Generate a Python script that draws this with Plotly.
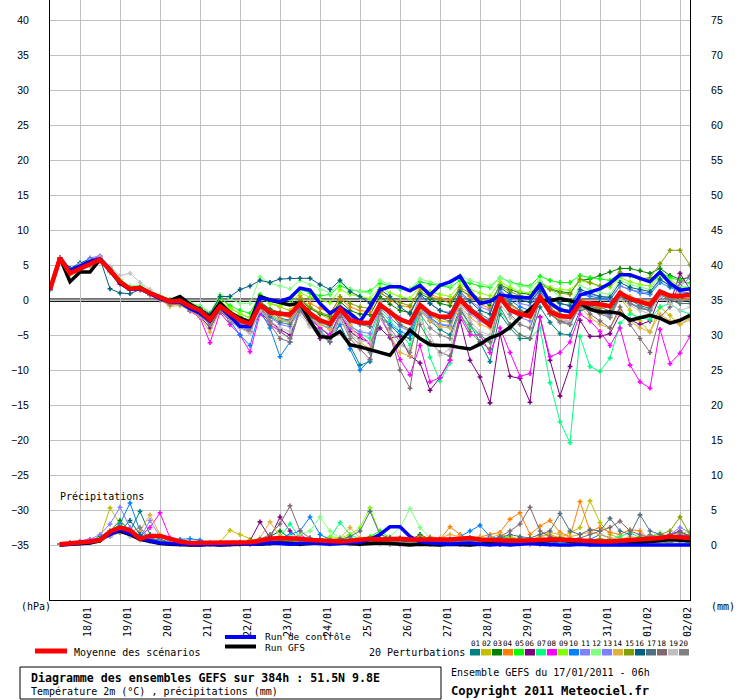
# GEFS ensemble diagram 51.5N 9.8E, run 17/01/2011 06h
import pandas as pd
import plotly.graph_objects as go

# 6-hourly steps 0h..384h
times = pd.date_range("2011-01-17 06:00", periods=65, freq="6h")
days = pd.date_range("2011-01-18", "2011-02-02", freq="D")
day_labels = [d.strftime("%d/%m") for d in days]

# --- 2m temperature (degC), 65 values ---
t_mean = [1.5, 6.0, 3.8, 4.5, 5.2, 5.8, 4.3, 2.6, 1.6, 1.7, 1.0, 0.4, -0.2,
          -0.1, -0.9, -1.5, -2.8, -0.9, -1.9, -2.9, -3.4, -0.7, -1.8, -1.9, -2.1, -0.5,
          -1.9, -2.9, -3.4, -1.3, -2.9, -3.2, -3.3, -0.7, -1.7, -2.8, -3.3, -0.7, -1.9,
          -2.4, -2.4, 0.1, -1.4, -2.6, -3.6, 0.4, -1.4, -2.0, -2.3, 0.4, -1.7, -2.3,
          -2.4, -0.4, -0.5, -0.6, -0.9, 1.0, 0.2, -0.2, -0.7, 1.2, 0.6, 0.6, 0.7]
t_control = [1.5, 6.0, 4.2, 4.8, 5.5, 5.9, 4.4, 2.5, 1.5, 1.6, 0.9, 0.2, -0.3,
             -0.3, -1.2, -1.9, -3.0, -1.0, -2.3, -3.8, -3.8, 0.3, 0.0, -0.2, 0.3, 1.7,
             1.4, -0.5, -1.9, -1.0, -1.9, -3.1, -1.0, 1.4, 1.9, 1.9, 1.3, 2.1, 0.7,
             2.1, 2.6, 3.4, 1.2, -0.5, -0.2, 0.7, 0.5, 0.4, 0.3, 2.2, -0.4, -1.4,
             -1.7, 0.7, 1.2, 1.6, 2.4, 3.6, 3.6, 3.1, 2.6, 4.0, 2.4, 1.4, 1.6]
t_gfs = [1.5, 6.0, 2.6, 4.0, 4.0, 5.8, 4.2, 2.4, 1.5, 1.8, 1.0, 0.3, -0.1,
         0.5, -0.6, -1.4, -2.5, -0.4, -1.8, -2.6, -3.2, 0.5, 0.0, -0.3, -0.7, -0.4,
         -3.0, -5.2, -5.4, -4.5, -6.4, -6.7, -7.1, -7.4, -7.9, -6.0, -4.3, -5.5, -6.4,
         -6.5, -6.5, -6.8, -7.0, -6.3, -5.4, -4.9, -3.9, -2.5, -1.3, -0.1, -0.1, 0.2,
         -0.1, -0.5, -1.3, -1.7, -1.7, -1.9, -2.9, -2.5, -2.2, -2.6, -3.3, -2.9, -2.2]

t01 = [1.5, 6.0, 4.4, 5.0, 5.3, 5.6, 4.0, 2.3, 1.4, 1.8, 1.2, 0.3, -0.5,
       -0.3, -1.2, -1.8, -2.9, -1.2, -2.2, -3.6, -4.0, -0.3, -1.5, -2.6, -2.9, -1.0,
       -2.5, -4.0, -5.2, -3.5, -6.5, -9.3, -8.8, -2.5, -3.6, -5.0, -5.5, -1.5, -3.0,
       -4.2, -5.0, -1.2, -3.5, -6.0, -8.8, -2.0, -4.0, -5.5, -5.5, -1.0, -3.2, -4.8,
       -5.0, -1.5, -1.2, -1.0, -1.6, 0.5, 0.0, -0.8, -1.2, 1.0, 0.6, 0.2, 0.8]
t02 = [1.5, 6.0, 3.9, 4.6, 5.0, 5.5, 4.5, 2.8, 1.8, 1.6, 0.9, 0.5, 0.0,
       0.1, -0.8, -1.2, -2.2, 0.4, -1.0, -2.0, -2.5, 0.6, -0.5, -1.0, -1.5, 0.2,
       -1.0, -2.0, -2.8, -0.5, -2.5, -3.0, -3.4, -0.3, -2.0, -3.5, -4.5, -0.8, -2.2,
       -3.0, -3.2, 0.5, -1.2, -2.2, -3.5, 0.8, -0.8, -1.5, -2.0, 0.8, -1.2, -2.0,
       -2.2, 0.0, -0.5, -1.5, -2.5, 0.3, -1.5, -3.0, -4.6, -1.0, -2.2, -3.5, -2.5]
t03 = [1.5, 6.0, 4.2, 4.8, 5.3, 5.9, 4.4, 2.7, 1.7, 1.8, 1.0, 0.3, -0.1,
       0.0, -0.8, -1.3, -2.5, -0.6, -1.6, -2.4, -2.9, -0.2, -1.3, -1.8, -1.9, 0.0,
       -1.2, -2.0, -2.4, -0.2, -1.5, -2.0, -2.1, 0.5, -0.6, -1.5, -1.8, 0.9, 0.2,
       -0.5, -0.8, 1.5, 0.6, 0.0, -0.8, 2.2, 1.5, 1.0, 0.8, 2.5, 1.6, 1.2,
       1.0, 2.8, 3.0, 3.5, 4.0, 4.5, 4.5, 4.2, 3.8, 4.5, 3.5, 3.0, 3.2]
t04 = [1.5, 6.0, 3.7, 4.3, 5.0, 5.6, 4.1, 2.4, 1.5, 1.5, 0.8, 0.1, -0.8,
       -0.5, -1.3, -2.0, -3.5, -1.4, -2.5, -3.2, -3.6, -0.5, -1.8, -2.2, -2.5, 0.6,
       -0.5, -1.2, -1.8, 0.2, -1.0, -1.5, -1.7, 1.2, 0.0, -0.8, -1.0, 1.6, 0.8,
       0.3, 0.0, 1.5, 0.5, -0.6, -1.2, 0.9, -0.5, -1.5, -1.8, 1.0, -0.8, -1.6,
       -1.8, 0.2, -0.5, -1.2, -1.0, 1.2, 0.5, 0.0, -0.3, 1.0, 0.2, 0.0, 0.2]
t05 = [1.5, 6.0, 4.0, 4.7, 5.4, 6.0, 4.6, 2.9, 1.8, 2.0, 1.2, 0.6, 0.1,
       0.3, -0.4, -0.9, -1.9, 0.3, -0.8, -1.5, -1.9, 0.8, 0.0, -0.2, 0.1, 1.5,
       1.0, 0.6, 0.8, 2.0, 1.5, 1.2, 1.3, 2.4, 2.0, 1.6, 1.5, 2.6, 2.3,
       2.0, 1.8, 2.8, 2.4, 2.0, 1.8, 3.2, 2.6, 2.2, 2.0, 3.4, 2.8, 2.5,
       2.5, 3.5, 3.2, 3.0, 2.8, 3.8, 3.4, 3.0, 3.0, 4.0, 3.2, 2.8, 2.4]
t06 = [1.5, 6.0, 4.1, 4.6, 5.1, 5.7, 4.2, 2.5, 1.4, 1.5, 0.8, 0.2, -0.4,
       -0.3, -1.5, -2.3, -4.0, -1.5, -2.8, -3.5, -4.5, -1.8, -3.0, -4.2, -5.0, -1.5,
       -3.5, -5.5, -5.0, -2.0, -4.5, -5.5, -6.0, -4.0, -5.4, -5.2, -8.0, -9.0, -12.9,
       -11.1, -8.6, -2.9, -8.6, -11.0, -14.7, -4.8, -10.9, -11.2, -14.6, -2.4, -8.6, -13.7,
       -9.5, -2.9, -5.2, -5.2, -4.8, -2.0, -2.8, -3.5, -3.0, 0.5, -0.5, 3.8, 1.5]
t07 = [1.5, 6.0, 4.3, 4.9, 5.5, 6.0, 4.5, 2.8, 1.9, 2.0, 1.1, 0.4, -0.3,
       -0.2, -1.0, -1.6, -3.2, -1.0, -2.0, -3.3, -3.5, -0.8, -2.2, -3.0, -3.2, -1.0,
       -2.5, -3.2, -3.8, -1.5, -3.5, -4.8, -5.5, -1.5, -3.0, -4.5, -6.5, -1.0, -8.2,
       -11.6, -9.0, -2.0, -4.0, -5.0, -6.0, -1.5, -3.5, -5.0, -5.5, -4.0, -11.8, -17.4,
       -20.4, -5.2, -9.5, -10.2, -8.3, -3.3, -2.0, -2.5, -2.8, -1.0, -0.5, -1.5, -2.0]
t08 = [1.5, 6.0, 4.0, 5.0, 5.8, 6.2, 4.0, 2.3, 1.5, 1.4, 0.7, 0.0, -0.6,
       -0.5, -1.6, -2.5, -6.1, -1.8, -3.5, -5.0, -7.4, -2.0, -3.5, -4.5, -5.5, -1.5,
       -2.8, -4.0, -5.0, -2.2, -4.0, -5.0, -6.2, -2.5, -5.0, -8.5, -10.7, -6.5, -11.7,
       -11.1, -8.6, -2.4, -5.0, -5.0, -7.5, -4.0, -7.5, -10.9, -10.5, -2.5, -8.1, -7.5,
       -6.0, -2.0, -3.0, -4.5, -6.5, -4.0, -9.3, -11.7, -12.6, -4.2, -9.1, -7.6, -5.2]
t09 = [1.5, 6.0, 4.1, 4.7, 5.2, 5.8, 4.5, 2.8, 1.7, 1.9, 1.1, 0.5, 0.0,
       0.1, -0.7, -1.2, -2.4, -0.3, -1.2, -2.0, -2.5, 0.5, -0.5, -0.8, -0.6, 1.0,
       0.4, 0.0, -0.4, 1.5, 0.8, 0.5, 0.2, 1.8, 1.0, 0.5, 0.2, 2.0, 1.2,
       0.8, 0.5, 2.2, 1.5, 1.0, 0.6, 2.6, 1.8, 1.2, 1.0, 2.6, 1.8, 1.5,
       1.4, 2.8, 2.4, 2.0, 1.8, 3.2, 2.6, 2.2, 2.0, 3.6, 2.8, 2.0, 1.5]
t10 = [1.5, 6.0, 4.3, 5.0, 5.6, 6.0, 4.2, 2.5, 1.5, 1.6, 0.9, 0.2, -0.4,
       -0.4, -1.3, -2.2, -3.5, -1.2, -3.0, -5.0, -6.5, -1.5, -4.0, -8.1, -6.0, -1.2,
       -3.0, -4.5, -6.0, -3.5, -7.0, -10.0, -8.5, -2.0, -3.5, -4.5, -5.0, -1.0, -2.5,
       -3.5, -3.8, 0.5, -1.5, -2.5, -3.0, 1.5, 0.0, -1.0, -1.5, 1.2, -0.5, -1.2,
       -1.5, 0.8, 0.5, 0.2, 0.0, 2.0, 1.5, 1.0, 0.8, 2.5, 1.8, 1.2, 1.0]
t11 = [1.5, 6.0, 4.4, 5.2, 6.0, 6.3, 4.6, 2.7, 1.6, 1.8, 1.0, 0.4, -0.3,
       -0.6, -1.5, -2.0, -3.2, -1.5, -2.8, -3.8, -4.2, -1.2, -2.5, -3.5, -3.8, -1.5,
       -2.8, -3.5, -4.0, -1.0, -2.5, -3.0, -3.2, -0.5, -1.5, -2.5, -3.0, 0.5, -0.5,
       -1.5, -1.8, 0.8, -0.2, -1.0, -1.5, 1.2, 0.5, -0.5, -0.8, 1.5, 0.2, -0.5,
       -0.8, 1.2, 0.8, 0.5, 0.2, 2.0, 1.5, 1.2, 1.0, 2.8, 2.2, 2.0, 3.2]
t12 = [1.5, 6.0, 4.2, 4.9, 5.5, 6.0, 4.7, 3.0, 2.0, 2.1, 1.3, 0.6, 0.0,
       0.0, -0.5, -0.8, -1.8, 0.8, 0.2, -0.5, -0.5, 3.3, 2.4, 2.0, 1.6, 2.8,
       2.2, 1.5, 1.0, 2.5, 1.6, 1.2, 1.0, 2.8, 2.2, 1.8, 1.6, 3.0, 2.6,
       2.2, 2.0, 3.5, 2.8, 2.4, 2.0, 3.2, 2.5, 2.0, 1.8, 2.8, 1.5, 0.5,
       -0.5, 2.0, 1.5, 1.0, 0.8, 2.8, 2.2, 1.8, 1.5, 3.5, 2.4, 1.8, 2.0]
t13 = [1.5, 6.0, 3.8, 4.4, 5.0, 5.6, 4.2, 2.5, 1.5, 1.6, 0.9, 0.3, -0.3,
       -0.2, -1.0, -1.7, -3.0, -0.8, -2.0, -3.5, -4.5, -0.5, -2.0, -2.8, -3.0, -0.8,
       -2.2, -3.4, -4.2, -1.8, -3.8, -4.5, -4.8, -1.2, -2.5, -3.8, -4.5, -1.2, -2.8,
       -3.5, -3.6, -0.5, -2.0, -3.0, -3.8, 0.2, -1.5, -2.5, -3.0, 0.0, -2.0, -3.0,
       -3.2, -1.0, -1.5, -1.8, -2.2, 0.5, -0.5, -1.0, -1.5, 1.0, 0.5, 0.5, 1.0]
t14 = [1.5, 6.0, 3.6, 4.2, 4.8, 5.5, 4.0, 2.4, 1.4, 1.4, 0.7, 0.0, -0.9,
       -0.8, -1.5, -2.4, -4.6, -1.5, -2.5, -3.4, -3.8, -0.6, -2.0, -2.8, -3.2, -1.0,
       -2.5, -3.5, -4.2, -1.2, -3.5, -6.0, -7.0, -2.0, -5.0, -7.5, -8.0, -1.5, -3.0,
       -3.8, -4.0, -0.8, -2.5, -3.5, -4.0, 0.0, -1.5, -2.2, -2.5, 0.2, -2.0, -2.8,
       -3.0, -1.0, -2.5, -3.5, -4.0, -1.5, -3.0, -4.0, -4.5, -2.0, -3.0, -3.5, -2.8]
t15 = [1.5, 6.0, 4.0, 4.5, 5.1, 5.7, 4.4, 2.7, 1.7, 1.7, 1.0, 0.4, -0.1,
       0.0, -0.8, -1.4, -2.6, -0.7, -1.8, -2.8, -3.2, -0.4, -1.6, -2.0, -2.2, 0.2,
       -1.0, -1.8, -2.2, 0.5, -0.5, -1.0, -1.2, 1.0, 0.2, -0.4, -0.8, 1.2, 0.5,
       0.0, -0.4, 1.8, 1.0, 0.2, -0.2, 2.0, 1.2, 0.6, 0.4, 2.2, 1.5, 1.0,
       0.8, 3.0, 2.5, 2.0, 2.2, 4.0, 3.5, 3.0, 3.2, 5.2, 7.1, 7.1, 5.0]
t16 = [1.5, 6.0, 4.5, 5.3, 5.8, 5.9, 1.6, 1.0, 0.9, 1.5, 1.0, 0.3, -0.4,
       -0.2, -0.8, -1.2, -2.0, 0.5, 0.5, 1.5, 2.0, 2.8, 2.5, 3.0, 3.1, 3.1,
       3.1, 2.2, 1.5, 2.8, 1.2, 0.5, -0.5, 1.5, 0.5, -1.0, -2.0, 0.8, -0.5,
       -1.5, -2.0, 1.2, -0.2, -1.5, -2.0, 1.8, 0.8, 0.0, -0.3, 1.5, 0.2, -0.5,
       -0.8, 1.5, 1.0, 0.5, 0.4, 2.5, 1.8, 1.5, 1.2, 3.0, 2.0, 1.5, 1.5]
t17 = [1.5, 6.0, 3.9, 4.5, 5.2, 5.8, 4.3, 2.5, 1.5, 1.6, 0.9, 0.3, -0.3,
       -0.3, -1.1, -1.7, -3.0, -1.0, -2.2, -3.2, -3.8, -0.8, -2.4, -3.2, -3.5, -1.2,
       -2.5, -3.0, -3.6, -1.5, -3.0, -3.5, -3.8, -0.8, -1.8, -3.5, -4.2, -1.0, -2.0,
       -2.6, -3.0, 0.5, -1.0, -2.0, -2.8, 0.8, -0.5, -1.5, -2.0, 0.5, -1.2, -2.0,
       -2.5, 0.0, -0.8, -1.5, -2.0, 0.5, -0.5, -1.2, -1.5, 0.8, 0.0, -0.5, -0.5]
t18 = [1.5, 6.0, 4.0, 4.8, 5.4, 5.9, 4.4, 2.6, 1.6, 1.7, 0.9, 0.2, -0.5,
       -0.5, -1.4, -2.0, -3.6, -1.6, -3.0, -4.0, -4.5, -1.0, -3.5, -5.5, -6.0, -1.5,
       -3.5, -5.0, -6.0, -2.5, -5.5, -7.0, -8.5, -2.0, -5.0, -10.0, -12.6, -3.5, -6.0,
       -7.5, -8.0, -2.0, -4.5, -6.0, -7.0, -1.0, -3.5, -5.0, -5.5, 0.5, -2.0, -3.0,
       -3.5, -0.5, -2.0, -3.0, -4.0, -1.0, -3.5, -5.5, -7.5, -2.5, -1.0, 2.5, 3.5]
t19 = [1.5, 6.0, 4.3, 5.1, 5.7, 6.1, 4.8, 3.5, 3.8, 2.5, 1.5, 0.5, -0.2,
       -0.4, -1.4, -2.2, -3.4, -1.3, -2.8, -4.0, -4.8, -1.5, -3.0, -4.0, -4.5, -2.0,
       -3.8, -5.0, -5.5, -3.0, -5.0, -5.8, -6.0, -2.5, -4.5, -6.5, -7.0, -2.8, -5.0,
       -7.9, -7.0, -1.0, -3.0, -4.5, -5.0, -0.5, -2.5, -3.5, -4.0, 0.5, -1.5, -2.5,
       -3.0, -0.5, -1.5, -2.0, -2.5, 0.2, -0.8, -1.5, -2.0, 0.5, -0.5, -1.5, -1.0]
t20 = [1.5, 6.0, 3.9, 4.5, 5.1, 5.7, 4.2, 2.6, 1.5, 1.5, 0.8, 0.1, -0.6,
       -0.6, -1.5, -2.1, -3.4, -1.4, -2.6, -3.6, -4.0, -0.9, -3.0, -4.5, -5.5, -1.5,
       -3.0, -4.5, -5.5, -2.0, -5.0, -6.5, -7.5, -1.5, -4.0, -6.0, -7.5, -2.0, -4.0,
       -5.0, -5.5, -1.5, -3.5, -5.0, -6.0, 0.0, -2.0, -3.5, -4.0, 0.0, -2.0, -3.2,
       -3.5, -1.0, -1.5, -2.0, -2.5, 0.5, -0.5, -1.0, -1.5, 0.8, 0.2, -0.2, 0.0]

# --- precipitation (mm), steps 6h..384h, 64 values ---
p_mean = [0.1, 0.2, 0.3, 0.5, 0.7, 1.9, 2.5, 2.1, 0.9, 1.3, 1.3, 0.9,
          0.5, 0.3, 0.3, 0.3, 0.3, 0.3, 0.3, 0.4, 0.6, 0.9, 1.0, 1.0, 0.9,
          0.7, 0.6, 0.5, 0.5, 0.6, 0.8, 0.9, 0.8, 0.9, 0.9, 0.8, 0.8, 0.7,
          0.7, 0.8, 0.9, 1.0, 0.8, 0.7, 0.6, 0.6, 0.6, 0.7, 0.7, 0.8, 0.8,
          0.7, 0.6, 0.6, 0.5, 0.5, 0.6, 0.7, 0.7, 0.8, 1.0, 1.2, 1.1, 1.0]
p_control = [0.0, 0.1, 0.2, 0.4, 0.8, 1.5, 2.2, 1.6, 1.0, 0.6, 0.3, 0.2,
             0.1, 0.1, 0.0, 0.1, 0.0, 0.1, 0.2, 0.1, 0.2, 0.3, 0.2, 0.1, 0.2,
             0.3, 0.2, 0.1, 0.2, 0.3, 0.4, 0.8, 1.5, 2.6, 2.6, 1.2, 0.5, 0.3,
             0.2, 0.1, 0.2, 0.3, 0.1, 0.0, 0.1, 0.0, 0.1, 0.2, 0.1, 0.0, 0.0,
             0.0, 0.1, 0.0, 0.0, 0.1, 0.0, 0.0, 0.1, 0.0, 0.0, 0.1, 0.0, 0.0]
p_gfs = [0.0, 0.1, 0.2, 0.3, 0.6, 1.8, 2.0, 1.5, 0.8, 0.5, 0.2, 0.1,
         0.0, 0.0, 0.0, 0.1, 0.0, 0.0, 0.1, 0.2, 0.1, 0.2, 0.3, 0.2, 0.1,
         0.2, 0.3, 0.4, 0.3, 0.2, 0.1, 0.2, 0.3, 0.2, 0.1, 0.0, 0.1, 0.0,
         0.0, 0.1, 0.0, 0.0, 0.1, 0.2, 0.3, 0.2, 0.4, 0.6, 0.5, 0.6, 0.8,
         0.5, 0.4, 0.3, 0.2, 0.1, 0.1, 0.2, 0.3, 0.5, 0.6, 0.8, 0.7, 0.6]

p01 = [0.1, 0.2, 0.3, 0.4, 0.8, 1.5, 2.0, 2.0, 4.8, 1.5, 0.8, 0.4,
       0.2, 0.1, 0.1, 0.2, 0.3, 0.2, 0.1, 0.2, 0.5, 0.8, 0.4, 0.3, 0.2,
       0.3, 0.5, 0.3, 0.2, 0.3, 0.4, 0.6, 0.3, 0.2, 0.4, 0.3, 0.2, 0.3,
       0.4, 0.6, 0.8, 0.5, 0.3, 0.6, 1.2, 0.8, 0.4, 0.3, 0.4, 0.5, 0.3,
       0.2, 0.3, 0.4, 0.5, 0.3, 0.4, 0.6, 0.8, 0.5, 0.7, 1.0, 1.3, 1.5]
p02 = [0.1, 0.2, 0.4, 0.6, 1.0, 5.3, 3.0, 1.5, 0.8, 1.0, 0.6, 0.3,
       0.2, 0.1, 0.1, 0.2, 0.4, 2.1, 1.5, 0.8, 0.3, 0.2, 0.4, 0.6, 0.3,
       0.2, 0.3, 0.5, 0.4, 0.3, 0.2, 0.3, 0.5, 0.8, 0.4, 0.3, 0.5, 0.6,
       0.8, 0.4, 0.3, 0.2, 0.3, 0.4, 0.6, 0.5, 0.4, 0.8, 1.2, 1.5, 1.0,
       1.8, 2.5, 6.3, 3.2, 1.5, 1.0, 0.8, 0.6, 0.5, 0.8, 0.6, 1.0, 1.2]
p03 = [0.1, 0.3, 0.4, 0.5, 1.2, 2.0, 3.5, 2.0, 1.0, 0.8, 0.5, 0.3,
       0.2, 0.1, 0.2, 0.3, 0.2, 0.1, 0.2, 0.4, 0.8, 1.2, 2.0, 1.0, 0.6,
       0.5, 0.4, 0.3, 0.6, 0.8, 0.5, 0.4, 0.6, 0.8, 1.0, 0.7, 1.5, 0.8,
       0.5, 0.4, 0.6, 0.8, 0.5, 0.4, 0.6, 0.8, 1.0, 0.7, 0.5, 0.4, 0.3,
       0.3, 0.2, 0.4, 0.3, 0.2, 0.3, 0.5, 0.8, 0.6, 0.4, 0.3, 0.2, 0.3]
p04 = [0.1, 0.2, 0.3, 0.6, 1.0, 1.8, 2.5, 1.5, 0.8, 0.6, 0.4, 0.2,
       0.1, 0.1, 0.2, 0.1, 0.1, 0.2, 0.1, 0.1, 0.3, 0.5, 0.4, 0.3, 0.5,
       0.4, 0.3, 0.6, 0.5, 0.8, 0.6, 0.4, 0.7, 1.0, 0.8, 0.6, 1.2, 1.0,
       0.8, 2.6, 1.5, 0.8, 1.2, 1.5, 1.8, 3.7, 4.6, 1.5, 2.7, 3.5, 1.8,
       1.2, 6.2, 2.0, 2.5, 1.8, 1.5, 2.2, 2.0, 0.8, 0.6, 0.5, 0.6, 0.5]
p05 = [0.1, 0.2, 0.3, 0.5, 0.9, 1.8, 3.0, 1.8, 0.8, 0.6, 0.4, 0.3,
       0.2, 0.1, 0.1, 0.2, 0.2, 0.1, 0.2, 0.3, 0.5, 0.6, 0.8, 0.5, 0.4,
       0.5, 0.7, 0.6, 0.8, 1.0, 0.8, 1.2, 2.0, 1.0, 0.6, 0.5, 0.8, 0.6,
       0.5, 0.8, 1.0, 0.7, 0.5, 0.6, 0.9, 1.2, 0.8, 0.5, 0.6, 1.0, 0.7,
       0.5, 0.4, 0.6, 0.8, 0.6, 0.5, 0.7, 1.2, 0.9, 0.6, 0.8, 1.5, 1.0]
p06 = [0.1, 0.2, 0.3, 0.5, 0.8, 1.5, 2.2, 1.8, 1.0, 0.8, 0.5, 0.3,
       0.2, 0.1, 0.1, 0.2, 0.1, 0.2, 0.4, 0.6, 3.3, 1.0, 4.0, 2.0, 0.8,
       0.4, 0.3, 0.2, 0.3, 0.2, 0.3, 0.4, 0.2, 0.1, 0.2, 0.3, 0.2, 0.1,
       0.1, 0.2, 0.3, 0.1, 0.1, 0.2, 0.1, 0.1, 0.2, 0.3, 0.1, 0.1, 0.1,
       0.1, 0.2, 0.1, 0.2, 0.4, 0.3, 0.2, 0.3, 0.5, 1.0, 1.5, 2.0, 1.2]
p07 = [0.1, 0.2, 0.4, 0.6, 1.0, 1.6, 2.4, 1.6, 0.9, 0.7, 0.5, 0.3,
       0.2, 0.1, 0.1, 0.1, 0.2, 0.1, 0.2, 0.3, 0.5, 0.8, 1.2, 3.0, 1.0,
       0.8, 0.6, 1.0, 3.2, 1.5, 0.8, 0.6, 0.5, 0.4, 0.3, 0.5, 0.4, 0.3,
       0.3, 0.4, 0.5, 0.8, 0.6, 0.4, 0.3, 0.4, 0.6, 0.4, 0.3, 0.5, 0.8,
       0.6, 0.4, 0.3, 0.4, 0.8, 1.2, 1.8, 1.0, 0.6, 0.5, 0.8, 0.6, 0.4]
p08 = [0.1, 0.3, 0.5, 0.8, 1.0, 1.5, 1.8, 1.5, 1.2, 2.5, 4.6, 1.0,
       0.4, 0.2, 0.1, 0.1, 0.2, 0.1, 0.1, 0.2, 0.3, 0.5, 0.4, 0.8, 1.5,
       0.6, 0.3, 0.2, 0.3, 0.2, 0.1, 0.2, 0.3, 0.2, 0.1, 0.2, 0.3, 0.2,
       0.1, 0.2, 0.1, 0.1, 0.2, 0.1, 0.1, 0.2, 0.1, 0.1, 0.2, 0.3, 0.2,
       0.1, 0.2, 0.1, 0.1, 0.2, 0.1, 0.3, 0.4, 0.2, 0.5, 0.8, 0.6, 0.4]
p09 = [0.1, 0.2, 0.3, 0.4, 0.8, 1.4, 2.0, 1.6, 0.9, 0.7, 0.5, 0.3,
       0.2, 0.1, 0.1, 0.2, 0.1, 0.2, 0.3, 0.2, 0.4, 0.6, 0.5, 0.8, 0.6,
       0.5, 0.8, 1.2, 1.0, 1.5, 2.5, 5.3, 1.5, 0.8, 0.6, 0.5, 0.7, 0.5,
       0.4, 0.5, 0.6, 0.8, 0.6, 0.4, 0.5, 0.7, 0.9, 0.6, 0.5, 0.8, 1.2,
       0.8, 0.6, 0.5, 0.7, 0.5, 0.4, 0.6, 0.8, 1.0, 0.7, 1.2, 1.6, 2.0]
p10 = [0.1, 0.2, 0.4, 0.6, 1.0, 1.8, 3.0, 6.0, 2.0, 1.0, 0.6, 0.3,
       0.8, 0.9, 0.7, 0.3, 0.2, 0.1, 0.2, 0.3, 0.5, 0.8, 1.0, 1.5, 2.0,
       4.0, 1.5, 0.8, 0.6, 0.4, 0.5, 0.3, 0.4, 0.6, 0.5, 0.8, 1.0, 0.8,
       0.6, 0.8, 1.2, 2.0, 2.8, 1.2, 0.8, 0.5, 0.4, 0.6, 0.8, 0.5, 0.4,
       0.3, 0.5, 0.8, 1.5, 1.0, 0.6, 0.4, 0.5, 0.8, 1.0, 0.6, 0.5, 0.4]
p11 = [0.1, 0.2, 0.3, 0.5, 0.9, 1.6, 2.2, 1.5, 1.0, 3.5, 1.2, 0.5,
       0.3, 0.2, 0.1, 0.1, 0.2, 0.1, 0.2, 0.1, 0.3, 0.4, 0.6, 0.5, 0.4,
       0.3, 0.5, 0.4, 0.6, 0.5, 0.4, 0.6, 0.5, 0.3, 0.4, 0.5, 0.6, 0.4,
       0.5, 0.3, 0.4, 0.6, 0.8, 0.5, 0.3, 0.4, 0.5, 0.4, 0.6, 0.8, 0.6,
       0.5, 0.4, 0.6, 0.8, 0.6, 0.5, 0.8, 1.0, 1.2, 0.9, 1.5, 2.5, 1.8]
p12 = [0.1, 0.2, 0.3, 0.5, 1.0, 1.8, 2.6, 1.8, 1.0, 0.8, 0.5, 0.3,
       0.2, 0.1, 0.1, 0.2, 0.1, 0.2, 0.2, 0.3, 0.4, 0.6, 0.8, 1.2, 1.5,
       2.0, 4.0, 2.0, 1.0, 0.8, 0.6, 0.5, 0.8, 1.2, 2.5, 5.2, 2.5, 1.0,
       0.8, 0.6, 0.5, 0.8, 1.0, 0.7, 0.5, 0.6, 0.8, 0.5, 0.4, 0.6, 0.5,
       0.4, 0.5, 0.6, 0.5, 0.4, 0.6, 0.8, 1.0, 1.2, 1.8, 1.0, 0.8, 0.6]
p13 = [0.1, 0.3, 0.5, 0.8, 1.5, 3.0, 5.4, 2.5, 1.2, 0.8, 0.5, 0.3,
       0.2, 0.1, 0.1, 0.1, 0.2, 0.1, 0.1, 0.2, 0.3, 0.5, 0.6, 0.4, 0.3,
       0.4, 0.6, 0.5, 0.3, 0.4, 0.6, 0.8, 0.5, 0.4, 0.3, 0.4, 0.6, 0.5,
       0.4, 0.3, 0.5, 0.7, 0.5, 0.3, 0.4, 0.6, 0.5, 0.4, 0.3, 0.5, 0.6,
       0.4, 0.3, 0.5, 0.6, 0.4, 0.5, 0.7, 0.6, 0.8, 1.2, 0.9, 1.5, 1.2]
p14 = [0.1, 0.2, 0.3, 0.4, 0.7, 1.2, 1.8, 1.5, 2.0, 4.3, 1.5, 0.5,
       0.3, 0.2, 0.1, 0.2, 0.1, 0.2, 0.3, 0.5, 1.0, 3.3, 1.2, 0.6, 0.4,
       0.5, 0.6, 0.8, 1.0, 2.5, 1.0, 0.6, 0.8, 1.0, 0.6, 0.5, 0.8, 1.2,
       1.0, 1.5, 1.2, 0.8, 0.6, 1.0, 1.5, 1.2, 0.8, 0.6, 1.2, 1.8, 1.5,
       1.2, 1.5, 1.8, 1.5, 1.0, 0.8, 1.2, 1.0, 0.8, 0.6, 0.8, 1.0, 0.8]
p15 = [0.1, 0.2, 0.3, 0.5, 0.8, 1.5, 2.2, 1.6, 0.9, 0.7, 0.4, 0.2,
       0.1, 0.1, 0.1, 0.2, 0.1, 0.1, 0.2, 0.3, 0.4, 0.3, 0.5, 0.6, 0.4,
       0.3, 0.4, 0.6, 0.5, 0.4, 0.6, 0.8, 0.6, 0.4, 0.5, 0.6, 0.8, 0.6,
       0.4, 0.5, 0.7, 0.6, 0.4, 0.5, 0.6, 0.8, 0.6, 0.5, 0.7, 1.0, 0.8,
       0.6, 0.5, 0.7, 0.9, 0.7, 0.6, 0.8, 1.0, 1.2, 1.5, 2.0, 4.0, 1.5]
p16 = [0.1, 0.2, 0.3, 0.5, 0.9, 1.5, 2.0, 3.5, 1.5, 0.8, 0.5, 0.3,
       0.2, 0.1, 0.1, 0.2, 0.3, 0.2, 0.1, 0.2, 0.3, 0.2, 0.4, 0.3, 0.2,
       0.3, 0.4, 0.6, 0.8, 0.5, 0.4, 0.6, 0.8, 1.0, 0.6, 0.4, 0.5, 0.6,
       0.5, 0.4, 0.6, 0.8, 0.5, 0.3, 0.4, 0.6, 0.8, 0.5, 0.4, 0.6, 0.5,
       0.4, 0.3, 0.5, 0.6, 0.4, 0.5, 0.7, 0.6, 0.8, 1.0, 1.4, 1.2, 0.9]
p17 = [0.1, 0.2, 0.3, 0.5, 0.8, 1.4, 2.0, 1.5, 0.9, 0.7, 0.4, 0.3,
       0.2, 0.1, 0.1, 0.2, 0.1, 0.2, 0.2, 0.3, 0.4, 0.5, 0.6, 0.5, 0.8,
       1.0, 0.8, 0.6, 0.8, 1.2, 2.0, 4.8, 1.5, 1.0, 0.8, 0.6, 0.8, 1.0,
       0.8, 0.6, 0.8, 1.0, 0.8, 0.6, 1.0, 1.5, 1.2, 1.0, 1.5, 2.0, 4.5,
       2.0, 1.5, 2.2, 2.0, 3.8, 2.0, 1.5, 4.3, 2.0, 1.5, 1.2, 1.0, 0.8]
p18 = [0.1, 0.2, 0.3, 0.4, 0.7, 1.2, 1.8, 1.4, 0.8, 0.6, 0.4, 0.3,
       0.2, 0.1, 0.1, 0.2, 0.1, 0.1, 0.2, 0.4, 0.8, 1.5, 3.0, 5.6, 2.0,
       1.0, 0.8, 0.6, 0.5, 0.4, 0.6, 0.8, 0.5, 0.4, 0.3, 0.5, 0.6, 0.4,
       0.5, 0.6, 0.8, 1.0, 0.8, 0.6, 1.2, 2.0, 3.0, 5.4, 2.0, 1.2, 1.0,
       0.8, 1.0, 1.5, 2.0, 2.5, 3.4, 2.0, 1.5, 1.0, 1.2, 1.5, 1.8, 1.2]
p19 = [0.1, 0.2, 0.3, 0.4, 0.7, 1.2, 2.0, 1.2, 0.7, 0.5, 0.3, 0.2,
       0.1, 0.1, 0.1, 0.1, 0.1, 0.1, 0.1, 0.2, 0.2, 0.3, 0.2, 0.2, 0.1,
       0.2, 0.1, 0.1, 0.2, 0.1, 0.1, 0.2, 0.1, 0.1, 0.2, 0.1, 0.1, 0.1,
       0.1, 0.1, 0.2, 0.1, 0.1, 0.1, 0.2, 0.1, 0.1, 0.1, 0.1, 0.2, 0.1,
       0.1, 0.1, 0.2, 0.1, 0.1, 0.2, 0.1, 0.1, 0.2, 0.3, 0.2, 0.2, 0.1]
p20 = [0.1, 0.2, 0.3, 0.5, 0.8, 1.4, 2.0, 1.8, 2.5, 1.0, 0.5, 0.3,
       0.2, 0.1, 0.1, 0.2, 0.1, 0.2, 0.2, 0.3, 0.4, 0.5, 0.4, 0.3, 0.4,
       0.3, 0.4, 0.5, 0.4, 0.6, 0.5, 0.4, 0.6, 0.5, 0.4, 0.3, 0.5, 0.4,
       0.3, 0.4, 0.5, 0.6, 0.4, 0.3, 0.5, 0.6, 0.4, 0.3, 0.4, 0.5, 0.6,
       0.4, 0.3, 0.5, 0.6, 0.4, 0.5, 0.7, 0.8, 1.5, 0.8, 0.6, 0.5, 0.4]

member_labels = ["01", "02", "03", "04", "05", "06", "07", "08", "09", "10",
                 "11", "12", "13", "14", "15", "16", "17", "18", "19", "20"]
member_colors = ["#008080", "#c0c000", "#008000", "#ff8000", "#00ff00",
                 "#800080", "#00ff80", "#ff00ff", "#80ff00", "#0080ff",
                 "#8080ff", "#80ff80", "#7f7fff", "#e0b040", "#80a000",
                 "#006080", "#507080", "#806870", "#c0c0c0", "#808080"]

t_members = [t01, t02, t03, t04, t05, t06, t07, t08, t09, t10,
             t11, t12, t13, t14, t15, t16, t17, t18, t19, t20]
p_members = [p01, p02, p03, p04, p05, p06, p07, p08, p09, p10,
             p11, p12, p13, p14, p15, p16, p17, p18, p19, p20]
for s in t_members + [t_mean, t_control, t_gfs]:
    assert len(s) == 65, len(s)
for s in p_members + [p_mean, p_control, p_gfs]:
    assert len(s) == 64, len(s)

MONO = "DejaVu Sans Mono"
SANS = "Liberation Sans"

fig = go.Figure()

# temperature
for ser, col in zip(t_members, member_colors):
    fig.add_trace(go.Scatter(x=times, y=ser, mode="lines+markers",
                             line=dict(color=col, width=1),
                             marker=dict(symbol="cross", size=4, color=col),
                             hoverinfo="skip"))
fig.add_trace(go.Scatter(x=times, y=t_gfs, mode="lines", line=dict(color="black", width=3.5)))
fig.add_trace(go.Scatter(x=times, y=t_control, mode="lines", line=dict(color="#0000ff", width=3.5)))
fig.add_trace(go.Scatter(x=times, y=t_mean, mode="lines", line=dict(color="#ff0000", width=4.5)))

# precipitation (right axis)
ptimes = times[1:]
for ser, col in zip(p_members, member_colors):
    fig.add_trace(go.Scatter(x=ptimes, y=ser, yaxis="y2", mode="lines+markers",
                             line=dict(color=col, width=1),
                             marker=dict(symbol="cross", size=4, color=col),
                             hoverinfo="skip"))
fig.add_trace(go.Scatter(x=ptimes, y=p_gfs, yaxis="y2", mode="lines", line=dict(color="black", width=3.5)))
fig.add_trace(go.Scatter(x=ptimes, y=p_control, yaxis="y2", mode="lines", line=dict(color="#0000ff", width=3.5)))
fig.add_trace(go.Scatter(x=ptimes, y=p_mean, yaxis="y2", mode="lines", line=dict(color="#ff0000", width=4.5)))


# pixel -> paper helpers (plot area is x 50..690, y 0..600)
def px(x):
    return (x - 50) / 640.0


def py(y):
    return (600 - y) / 600.0


shapes = []
# double zero line
for yv in (0.15, -0.2):
    shapes.append(dict(type="line", xref="paper", yref="y", x0=0, x1=1, y0=yv, y1=yv,
                       line=dict(color="black", width=1), layer="between"))
# legend keys
shapes.append(dict(type="line", xref="paper", yref="paper", x0=px(35), x1=px(67),
                   y0=py(651), y1=py(651), line=dict(color="#ff0000", width=5)))
shapes.append(dict(type="line", xref="paper", yref="paper", x0=px(225), x1=px(256),
                   y0=py(637), y1=py(637), line=dict(color="#0000ff", width=4)))
shapes.append(dict(type="line", xref="paper", yref="paper", x0=px(225), x1=px(256),
                   y0=py(646.5), y1=py(646.5), line=dict(color="black", width=4)))
for k, col in enumerate(member_colors):
    shapes.append(dict(type="rect", xref="paper", yref="paper",
                       x0=px(470 + 11 * k), x1=px(480 + 11 * k), y0=py(655.5), y1=py(649),
                       fillcolor=col, line=dict(width=0)))
# title box
shapes.append(dict(type="rect", xref="paper", yref="paper", x0=px(20), x1=px(441),
                   y0=py(699), y1=py(667), line=dict(color="black", width=1)))


def label(x, y, text, size=10, bold=False, anchor="left"):
    return dict(xref="paper", yref="paper", x=px(x), y=py(y), text=f"<b>{text}</b>" if bold else text,
                showarrow=False, xanchor=anchor, yanchor="middle", borderpad=0,
                font=dict(family=MONO, size=size, color="black"))


annotations = [
    label(59, 496, "Précipitations"),
    label(20, 606, "(hPa)"),
    label(710, 606, "(mm)"),
    label(73, 652, "Moyenne des scénarios"),
    label(264, 636, "Run de contrôle", size=9.5),
    label(264, 647.5, "Run GFS", size=9.5),
    label(466, 652, "20 Perturbations", anchor="right"),
    label(30, 678, "Diagramme des ensembles GEFS sur 384h : 51.5N 9.8E", size=11.6, bold=True),
    label(30, 691, "Température 2m (°C) , précipitations (mm)"),
    label(450, 672, "Ensemble GEFS du 17/01/2011 - 06h"),
    label(450, 691, "Copyright 2011 Meteociel.fr", size=12.2, bold=True),
]
for k, name in enumerate(member_labels):
    annotations.append(label(475 + 11 * k, 643.5, name, size=7.5, anchor="center"))

fig.update_layout(
    width=740, height=700,
    margin=dict(l=50, r=50, t=0, b=100),
    plot_bgcolor="white", paper_bgcolor="white",
    showlegend=False, hovermode=False,
    shapes=shapes, annotations=annotations,
    xaxis=dict(type="date", range=[times[0], times[-1]],
               tickvals=[d.strftime("%Y-%m-%d") for d in days], ticktext=day_labels,
               tickangle=-90, ticklabelshift=8, ticklabelstandoff=2,
               tickfont=dict(family=MONO, size=10, color="black"),
               showgrid=True, gridcolor="#c0c0c0", gridwidth=1,
               showline=True, linecolor="black", linewidth=1,
               zeroline=False, ticks="", automargin=False),
    yaxis=dict(range=[-300 / 7, 300 / 7], tickvals=list(range(-35, 45, 5)),
               tickfont=dict(family=SANS, size=10.5, color="black"),
               ticklabelstandoff=18,
               showgrid=True, gridcolor="#c0c0c0", gridwidth=1,
               showline=True, linecolor="black", linewidth=1,
               zeroline=False, ticks="", automargin=False),
    yaxis2=dict(range=[-300 / 7 + 35, 300 / 7 + 35], tickvals=list(range(0, 80, 5)),
                overlaying="y", side="right",
                tickfont=dict(family=SANS, size=10.5, color="black"),
                ticklabelstandoff=18,
                showgrid=False, showline=True, linecolor="black", linewidth=1,
                zeroline=False, ticks="", automargin=False),
)

# the page's default body margin would push the figure 8px right/down
fig.write_html("out.html", config={"displayModeBar": False},
               post_script="document.body.style.margin='0';")
